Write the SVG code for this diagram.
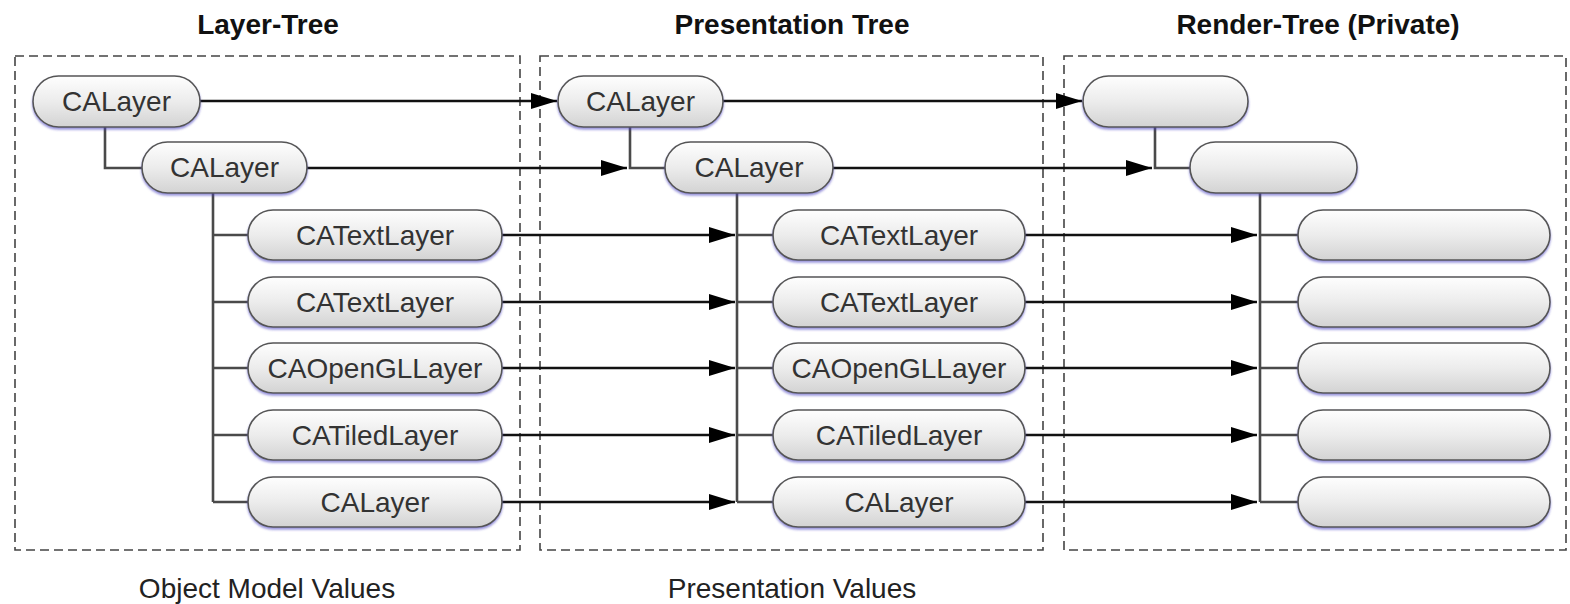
<svg xmlns="http://www.w3.org/2000/svg" width="1570" height="604" viewBox="0 0 1570 604">
<style>
.title{font-family:"Liberation Sans",Arial,sans-serif;font-weight:bold;font-size:28px;fill:#111;text-anchor:middle}
.foot{font-family:"Liberation Sans",Arial,sans-serif;font-size:28px;fill:#222;text-anchor:middle}
.lbl{font-family:"Liberation Sans",Arial,sans-serif;font-size:28px;fill:#333;text-anchor:middle}
.node rect{fill:url(#g);stroke:#555;stroke-width:1.6;filter:url(#sh)}
.frame{fill:none;stroke:#444;stroke-width:1.6;stroke-dasharray:9 5}
.tree{fill:none;stroke:#4a4a4a;stroke-width:2.6}
.arr{fill:none;stroke:#111;stroke-width:2.6;marker-end:url(#ah)}
</style>
<defs>
<linearGradient id="g" x1="0" y1="0" x2="0" y2="1">
<stop offset="0" stop-color="#fefefe"/>
<stop offset="0.5" stop-color="#ececec"/>
<stop offset="1" stop-color="#d3d3d3"/>
</linearGradient>
<filter id="sh" x="-5%" y="-10%" width="110%" height="130%">
<feDropShadow dx="0" dy="2" stdDeviation="1.2" flood-color="#4a3fc0" flood-opacity="0.55"/>
</filter>
<marker id="ah" viewBox="0 0 26 16" refX="26" refY="8" markerWidth="26" markerHeight="16" markerUnits="userSpaceOnUse" orient="auto">
<path d="M0,0 L26,8 L0,16 Z" fill="#000"/>
</marker>
</defs>
<rect width="1570" height="604" fill="#fff"/>
<g id="titles">
<text class="title" x="268" y="34">Layer-Tree</text>
<text class="title" x="792" y="34">Presentation Tree</text>
<text class="title" x="1318" y="34">Render-Tree (Private)</text>
<text class="foot" x="267" y="598">Object Model Values</text>
<text class="foot" x="792" y="598">Presentation Values</text>
</g>
<g id="frames">
<rect class="frame" x="15" y="56" width="505" height="494"/>
<rect class="frame" x="540" y="56" width="503" height="494"/>
<rect class="frame" x="1064" y="56" width="502" height="494"/>
</g>
<g id="connectors">
<path class="tree" d="M105,127 V168 H142"/>
<path class="tree" d="M213,193 V502 M213,235 H248 M213,302 H248 M213,368 H248 M213,435 H248 M213,502 H248"/>
<path class="tree" d="M630,127 V168 H665"/>
<path class="tree" d="M737,193 V502 M737,235 H773 M737,302 H773 M737,368 H773 M737,435 H773 M737,502 H773"/>
<path class="tree" d="M1155,127 V168 H1190"/>
<path class="tree" d="M1260,193 V502 M1260,235 H1298 M1260,302 H1298 M1260,368 H1298 M1260,435 H1298 M1260,502 H1298"/>
<path class="arr" d="M200,101 H557"/>
<path class="arr" d="M307,168 H627"/>
<path class="arr" d="M723,101 H1082"/>
<path class="arr" d="M833,168 H1152"/>
<path class="arr" d="M502,235 H735"/>
<path class="arr" d="M502,302 H735"/>
<path class="arr" d="M502,368 H735"/>
<path class="arr" d="M502,435 H735"/>
<path class="arr" d="M502,502 H735"/>
<path class="arr" d="M1025,235 H1257"/>
<path class="arr" d="M1025,302 H1257"/>
<path class="arr" d="M1025,368 H1257"/>
<path class="arr" d="M1025,435 H1257"/>
<path class="arr" d="M1025,502 H1257"/>
</g>
<g id="l1-root" class="node"><rect x="33" y="76" width="167" height="51" rx="25.5"/><text class="lbl" x="116.5" y="111">CALayer</text></g>
<g id="l1-child" class="node"><rect x="142" y="142" width="165" height="51" rx="25.5"/><text class="lbl" x="224.5" y="177">CALayer</text></g>
<g id="l1-text1" class="node"><rect x="248" y="210" width="254" height="50" rx="25"/><text class="lbl" x="375" y="245">CATextLayer</text></g>
<g id="l1-text2" class="node"><rect x="248" y="277" width="254" height="50" rx="25"/><text class="lbl" x="375" y="312">CATextLayer</text></g>
<g id="l1-gl" class="node"><rect x="248" y="343" width="254" height="50" rx="25"/><text class="lbl" x="375" y="378">CAOpenGLLayer</text></g>
<g id="l1-tiled" class="node"><rect x="248" y="410" width="254" height="50" rx="25"/><text class="lbl" x="375" y="445">CATiledLayer</text></g>
<g id="l1-layer" class="node"><rect x="248" y="477" width="254" height="50" rx="25"/><text class="lbl" x="375" y="512">CALayer</text></g>
<g id="p-root" class="node"><rect x="558" y="76" width="165" height="51" rx="25.5"/><text class="lbl" x="640.5" y="111">CALayer</text></g>
<g id="p-child" class="node"><rect x="665" y="142" width="168" height="51" rx="25.5"/><text class="lbl" x="749" y="177">CALayer</text></g>
<g id="p-text1" class="node"><rect x="773" y="210" width="252" height="50" rx="25"/><text class="lbl" x="899" y="245">CATextLayer</text></g>
<g id="p-text2" class="node"><rect x="773" y="277" width="252" height="50" rx="25"/><text class="lbl" x="899" y="312">CATextLayer</text></g>
<g id="p-gl" class="node"><rect x="773" y="343" width="252" height="50" rx="25"/><text class="lbl" x="899" y="378">CAOpenGLLayer</text></g>
<g id="p-tiled" class="node"><rect x="773" y="410" width="252" height="50" rx="25"/><text class="lbl" x="899" y="445">CATiledLayer</text></g>
<g id="p-layer" class="node"><rect x="773" y="477" width="252" height="50" rx="25"/><text class="lbl" x="899" y="512">CALayer</text></g>
<g id="r-root" class="node"><rect x="1083" y="76" width="165" height="51" rx="25.5"/></g>
<g id="r-child" class="node"><rect x="1190" y="142" width="167" height="51" rx="25.5"/></g>
<g id="r-1" class="node"><rect x="1298" y="210" width="252" height="50" rx="25"/></g>
<g id="r-2" class="node"><rect x="1298" y="277" width="252" height="50" rx="25"/></g>
<g id="r-3" class="node"><rect x="1298" y="343" width="252" height="50" rx="25"/></g>
<g id="r-4" class="node"><rect x="1298" y="410" width="252" height="50" rx="25"/></g>
<g id="r-5" class="node"><rect x="1298" y="477" width="252" height="50" rx="25"/></g>
</svg>
